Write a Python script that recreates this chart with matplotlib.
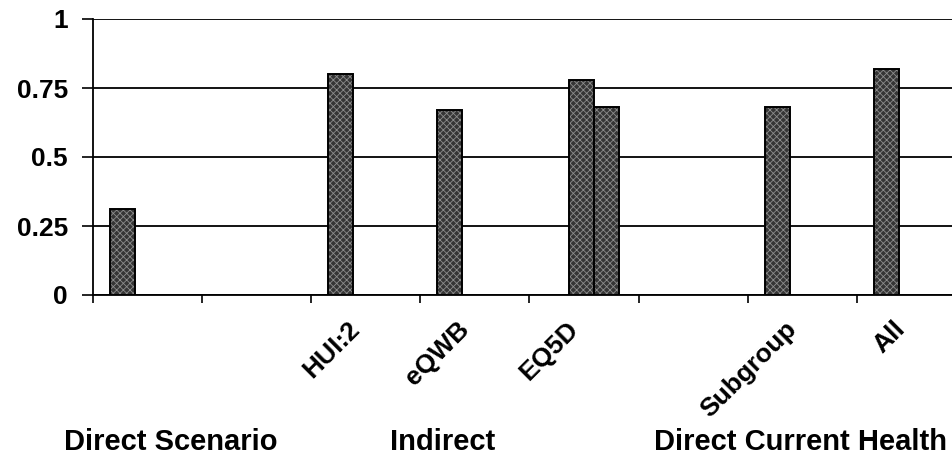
import numpy as np
import matplotlib
matplotlib.use("Agg")
import matplotlib.pyplot as plt
from matplotlib.transforms import ScaledTranslation

# category slots along the x axis (blank slots separate the groups)
categories = ["", "", "HUI:2", "eQWB", "EQ5D", "", "Subgroup", "All"]
series_a = [0.31, np.nan, 0.80, 0.67, np.nan, np.nan, 0.68, 0.82]
series_b = [np.nan, np.nan, np.nan, np.nan, 0.78, np.nan, np.nan, np.nan]
series_c = [np.nan, np.nan, np.nan, np.nan, 0.68, np.nan, np.nan, np.nan]
y_ticks = [0, 0.25, 0.5, 0.75, 1]
y_labels = ["0", "0.25", "0.5", "0.75", "1"]
groups = ["Direct Scenario", "Indirect", "Direct Current Health"]

plt.rcParams["font.family"] = ["Liberation Sans", "DejaVu Sans"]
plt.rcParams["font.weight"] = "bold"
plt.rcParams["hatch.linewidth"] = 0.6

fig = plt.figure(figsize=(9.53, 4.58), dpi=100)
ax = fig.add_axes([93 / 953, 1 - 295 / 458, (966 - 93) / 953, (295 - 19) / 458])

x = np.arange(len(categories))
width = 0.23
offsets = [-0.229, -0.026, 0.204]
for vals, off in zip([series_a, series_b, series_c], offsets):
    ax.bar(x + off, vals, width, color="#353535", hatch="xxxxx",
           edgecolor="#8c8c8c", linewidth=0, zorder=3)
    ax.bar(x + off, vals, width, color="none", edgecolor="black",
           linewidth=1.4, zorder=4)

ax.set_xlim(-0.5, len(categories) - 0.5)
ax.set_ylim(0, 1)
ax.set_yticks(y_ticks)
ax.set_yticklabels(y_labels, fontsize=19, fontweight="bold")
ax.tick_params(axis="y", direction="out", length=8, width=1.2, pad=10)
ax.yaxis.grid(True, color="black", linewidth=1.3, zorder=1)
ax.set_axisbelow(True)

ax.set_xticks(x)
ax.set_xticklabels(categories, rotation=45, ha="right", va="center",
                   rotation_mode="anchor", fontsize=19, fontweight="bold")
ax.tick_params(axis="x", which="major", length=0, pad=22)
shift = ScaledTranslation(-7 / 72, 0, fig.dpi_scale_trans)
for lab in ax.get_xticklabels():
    lab.set_transform(lab.get_transform() + shift)
ax.set_xticks(np.arange(len(categories) + 1) - 0.5, minor=True)
ax.tick_params(axis="x", which="minor", direction="out", length=6, width=1.2)

for side in ["top", "right"]:
    ax.spines[side].set_visible(False)
ax.spines["left"].set_linewidth(1.3)
ax.spines["bottom"].set_linewidth(1.3)

group_x = [171, 443, 801]
for name, gx in zip(groups, group_x):
    fig.text(gx / 953, 1 - 442 / 458, name, ha="center", va="center",
             fontsize=21, fontweight="bold")

fig.savefig("out.png", dpi=100)
